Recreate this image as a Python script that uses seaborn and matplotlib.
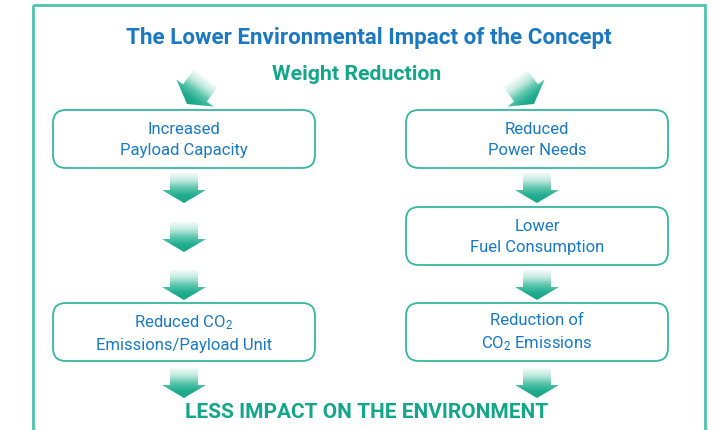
import numpy as np
import matplotlib.pyplot as plt
import seaborn as sns
from matplotlib.patches import FancyBboxPatch, Polygon, Rectangle
from matplotlib.colors import LinearSegmentedColormap

# texts of the diagram
title = "The Lower Environmental Impact of the Concept"
subtitle = "Weight Reduction"
footer = "LESS IMPACT ON THE ENVIRONMENT"
left_boxes = ["Increased\nPayload Capacity", None, "Reduced CO$_2$\nEmissions/Payload Unit"]
right_boxes = ["Reduced\nPower Needs", "Lower\nFuel Consumption", "Reduction of\nCO$_2$ Emissions"]

sns.set_theme(style="white")
plt.rcParams['font.family'] = ['Roboto', 'DejaVu Sans']
plt.rcParams['mathtext.fontset'] = 'custom'
plt.rcParams['mathtext.rm'] = 'Roboto'
plt.rcParams['mathtext.it'] = 'Roboto'

BLUE = '#1b78c2'
TEAL = '#14a688'
EDGE = '#36b69d'

arrow_cmap = LinearSegmentedColormap.from_list(
    'arr', ['#f2fbf8', '#bfe9dd', '#5cc6ad', '#22ad90', '#17a386'])

fig = plt.figure(figsize=(7.19, 4.30), dpi=100)
ax = fig.add_axes([0, 0, 1, 1])


def draw_arrow(ax, tip_x, tip_y, angle=0.0, scale=1.0):
    # down-pointing arrow, tip at origin, then rotated
    pts = np.array([(-14, -30), (14, -30), (14, -13), (22, -13),
                    (0, 0), (-22, -13), (-14, -13)], float) * scale
    a = np.deg2rad(angle)
    R = np.array([[np.cos(a), -np.sin(a)], [np.sin(a), np.cos(a)]])
    world = pts @ R.T + [tip_x, tip_y]
    x0, y0 = world.min(axis=0) - 2
    x1, y1 = world.max(axis=0) + 2
    xs = np.linspace(x0, x1, 120)
    ys = np.linspace(y0, y1, 120)
    X, Y = np.meshgrid(xs, ys)
    ly = -(X - tip_x) * np.sin(a) + (Y - tip_y) * np.cos(a)
    t = np.clip((ly / scale + 30) / 30, 0, 1)
    poly = Polygon(world, closed=True, facecolor='none', edgecolor='none')
    ax.add_patch(poly)
    im = ax.imshow(t, cmap=arrow_cmap, vmin=0, vmax=1, origin='lower',
                   extent=(x0, x1, y0, y1), aspect='auto', interpolation='bilinear')
    im.set_clip_path(poly)


def draw_box(ax, cx, y_top, label):
    w, h = 262, 58
    box = FancyBboxPatch((cx - w / 2, y_top), w, h,
                         boxstyle='round,pad=0,rounding_size=13',
                         facecolor='white', edgecolor=EDGE, linewidth=1.3)
    ax.add_patch(box)
    ax.text(cx, y_top + h / 2 + 1, label, ha='center', va='center',
            color=BLUE, fontsize=12, linespacing=1.5)


# outer frame
ax.add_patch(Rectangle((33, 5), 672, 440, facecolor='none', edgecolor='#4fc3ab', linewidth=2))

ax.text(369, 38, title, ha='center', va='center', color=BLUE,
        fontsize=16.1, fontweight='bold')
ax.text(357, 74, subtitle, ha='center', va='center', color=TEAL,
        fontsize=15.3, fontweight='bold')

left_x, right_x = 184, 537
rows = [110, 207, 303]

for y, lab in zip(rows, left_boxes):
    if lab is not None:
        draw_box(ax, left_x, y, lab)
for y, lab in zip(rows, right_boxes):
    draw_box(ax, right_x, y, lab)

# diagonal arrows from the heading
draw_arrow(ax, 187, 104, angle=36, scale=1.05)
draw_arrow(ax, 534, 104, angle=-36, scale=1.05)

# down arrows
for tip in [203, 252, 300, 398]:
    draw_arrow(ax, left_x, tip)
for tip in [203, 300, 398]:
    draw_arrow(ax, right_x, tip)

ax.text(367, 412, footer, ha='center', va='center', color=TEAL,
        fontsize=15, fontweight='bold')

ax.set_xlim(0, 719)
ax.set_ylim(430, 0)
ax.axis('off')
fig.savefig('out.png', dpi=100, facecolor='white')
